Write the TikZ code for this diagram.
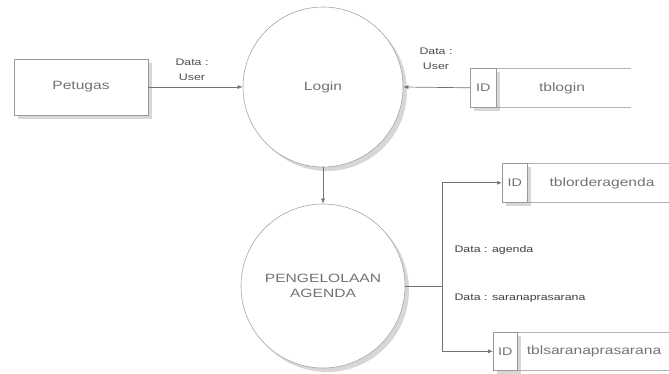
\documentclass[tikz,border=0pt]{standalone}
\usepackage{fontspec}
\setmainfont[FakeStretch=1.3]{Liberation Sans}
\usetikzlibrary{arrows.meta,shadows,calc}
\begin{document}
\begin{tikzpicture}[x=1pt,y=1pt,
  ln/.style={draw=black!55,line width=0.7pt},
  flow/.style={ln,-{Latex[length=5pt,width=4pt]}},
  shade/.style={drop shadow={shadow xshift=4pt,shadow yshift=-4pt,opacity=0.35,fill=black!45}},
  entity/.style={ln,draw=black!40,fill=white,shade,minimum width=134pt,minimum height=56pt,
    font=\fontsize{12}{13}\selectfont,text=black!55},
  proc/.style={circle,draw=black!35,line width=0.6pt,fill=white,shade,
    font=\fontsize{12}{15}\selectfont,text=black!55,align=center,inner sep=0pt},
  idbox/.style={draw=black!40,line width=0.6pt,fill=white,shade,anchor=north west,
    font=\fontsize{11}{12}\selectfont,text=black!55,inner sep=0pt},
  stline/.style={draw=black!30,line width=0.7pt},
  sname/.style={font=\fontsize{12}{13}\selectfont,text=black!55},
  lbl/.style={font=\fontsize{9.5}{15}\selectfont,text=black!70,align=center},
  lbls/.style={font=\fontsize{9.5}{11}\selectfont,text=black!75,anchor=west}
]
\useasboundingbox (0,0) rectangle (669,-374);

% external entity
\node[entity] (pet) at (81,-87) {Petugas};

% processes
\node[proc,minimum size=160pt] (login) at (323,-87) {Login};
\node[proc,minimum size=164pt] (peng) at (323,-286) {PENGELOLAAN\\AGENDA};

% data store: tblogin
\draw[stline] (470,-68) -- (631,-68) (470,-107) -- (631,-107);
\node[idbox,minimum width=26pt,minimum height=39pt] (idlogin) at (470,-68) {ID};
\node[sname] (tblogin) at (562,-88) {tblogin};

% data store: tblorderagenda
\draw[stline] (502,-163) -- (669,-163) (502,-202) -- (669,-202);
\node[idbox,minimum width=25pt,minimum height=39pt] (idorder) at (502,-163) {ID};
\node[sname] (tblorder) at (602,-183) {tblorderagenda};

% data store: tblsaranaprasarana
\draw[stline] (493,-332) -- (669,-332) (493,-370) -- (669,-370);
\node[idbox,minimum width=24pt,minimum height=38pt] (idsarana) at (493,-332) {ID};
\node[sname] (tblsarana) at (594,-351) {tblsaranaprasarana};

% data flows
\draw[flow] (pet.east) -- (login.west);
\node[lbl] (lbl1) at (192,-70) {Data :\\User};
\draw[flow] (idlogin.west) -- (login.east);
\node[lbl] (lbl2) at (436,-59) {Data :\\User};
\draw[flow] (login.south) -- (peng.north);

\coordinate (split) at (442,-286);
\draw[ln] (peng.east) -- (split);
\draw[flow] (split) |- (idorder.west);
\draw[flow] (split) |- (idsarana.west);
\node[lbls] (lbl3) at (451,-250) {Data : agenda};
\node[lbls] (lbl4) at (451,-298) {Data : saranaprasarana};
\end{tikzpicture}
\end{document}
